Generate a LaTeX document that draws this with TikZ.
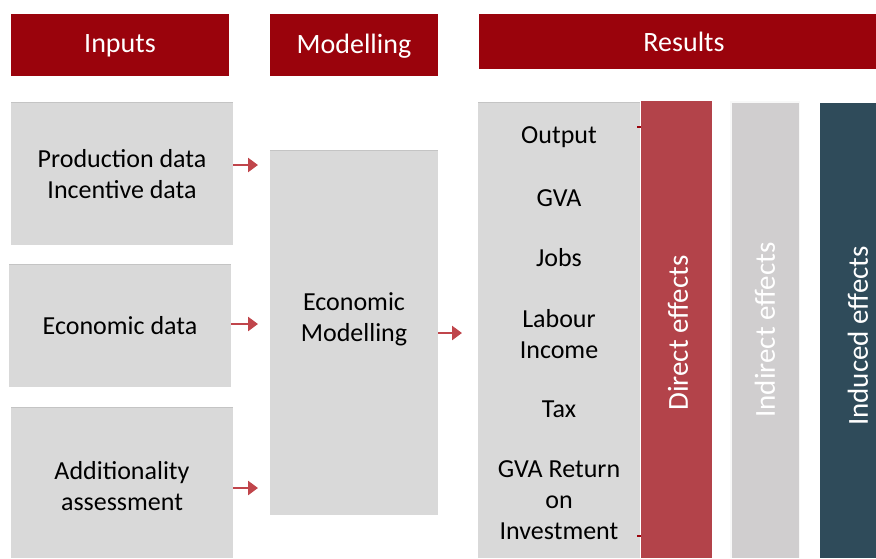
\documentclass[tikz,border=0pt]{standalone}
\usepackage{fontspec}
\setmainfont{Carlito}
\usetikzlibrary{arrows.meta}
\definecolor{hdr}{HTML}{9A030C}
\definecolor{boxg}{HTML}{D9D9D9}
\definecolor{boxedge}{HTML}{C4C4C4}
\definecolor{arr}{HTML}{C0454B}
\definecolor{direct}{HTML}{B3434A}
\definecolor{indirect}{HTML}{D0CECF}
\definecolor{induced}{HTML}{2F4B5A}
\begin{document}
\begin{tikzpicture}[x=1pt,y=-1pt,
  hdrbox/.style={fill=hdr},
  graybox/.style={fill=boxg},
  txt/.style={font=\fontsize{26}{31}\selectfont, align=center, inner sep=0pt},
  rtxt/.style={font=\fontsize{29}{31}\selectfont, text=white, inner sep=0pt, rotate=90},
  htxt/.style={font=\fontsize{28}{30}\selectfont, text=white, inner sep=0pt},
  flow/.style={draw=arr, line width=2.5pt, -{Triangle[length=10pt,width=14pt]}}
]
\useasboundingbox (0,0) rectangle (876,558);
% headers
\fill[hdrbox] (11,14) rectangle (229,76);
\fill[hdrbox] (270,14) rectangle (438,76);
\fill[hdrbox] (479,14) rectangle (876,69);
\node[htxt] (hIn) at (120,46) {Inputs};
\node[htxt] (hMod) at (354,46) {Modelling};
\node[htxt] (hRes) at (684,42) {Results};
% input boxes
\fill[graybox] (11,102) rectangle (233,245);
\draw[boxedge] (11,102) -- (233,102);
\fill[graybox] (9,264) rectangle (231,387);
\draw[boxedge] (9,264) -- (231,264);
\fill[graybox] (11,407) rectangle (233,558);
\draw[boxedge] (11,407) -- (233,407);
\node[txt] (in1) at (122,174) {Production data\\Incentive data};
\node[txt] (in2) at (120,326) {Economic data};
\node[txt] (in3) at (122,486) {Additionality\\assessment};
% modelling box
\fill[graybox] (270,150) rectangle (438,515);
\draw[boxedge] (270,150) -- (438,150);
\node[txt] (mod) at (354,319) {Economic\\Modelling};
% results list box
\fill[graybox] (478,102) rectangle (640,558);
\draw[boxedge] (478,102) -- (640,102);
\node[txt] (r1) at (559,137) {Output};
\node[txt] (r2) at (559,198) {GVA};
\node[txt] (r3) at (559,258) {Jobs};
\node[txt] (r4) at (559,334) {Labour\\Income};
\node[txt] (r5) at (559,409) {Tax};
\node[txt] (r6) at (559,500) {GVA Return\\on\\Investment};
% effect columns
\fill[direct] (641,101) rectangle (712,558);
\draw[hdr, line width=1.5pt] (637,127) -- (641,127);
\draw[hdr, line width=1.5pt] (637,536) -- (641,536);
\fill[indirect] (730,101) rectangle (800,558);
\draw[white!85!indirect, line width=1.5pt] (730.75,558) -- (730.75,101.75) -- (799.25,101.75) -- (799.25,558);
\fill[induced] (820,103) rectangle (876,558);
\node[rtxt] (dir) at (678,333) {Direct effects};
\node[rtxt] (ind) at (765,330) {Indirect effects};
\node[rtxt] (inu) at (858,336) {Induced effects};
% arrows
\coordinate (a1s) at (233,165); \coordinate (a1e) at (258,165);
\coordinate (a2s) at (231,324); \coordinate (a2e) at (258,324);
\coordinate (a3s) at (233,488); \coordinate (a3e) at (258,488);
\coordinate (a4s) at (438,333); \coordinate (a4e) at (462,333);
\draw[flow] (a1s) -- (a1e);
\draw[flow] (a2s) -- (a2e);
\draw[flow] (a3s) -- (a3e);
\draw[flow] (a4s) -- (a4e);
\end{tikzpicture}
\end{document}
